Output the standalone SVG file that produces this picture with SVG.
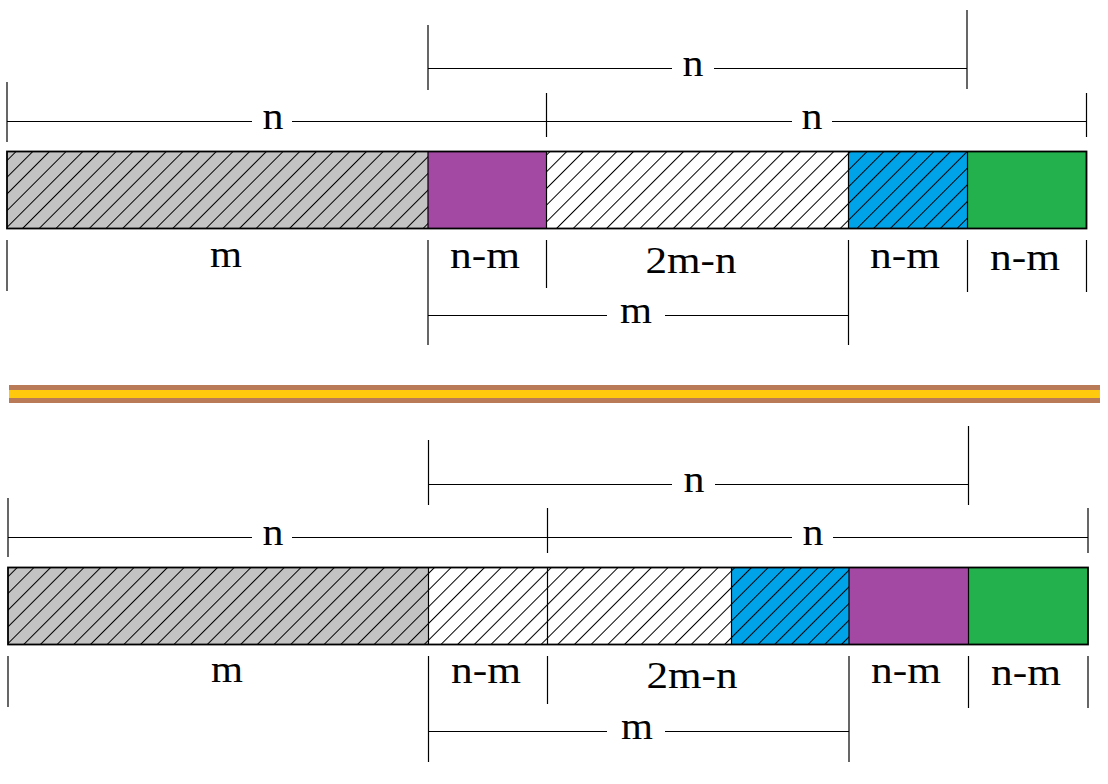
<svg xmlns="http://www.w3.org/2000/svg" width="1108" height="784" viewBox="0 0 1108 784">
<style>
.t{font-family:"Liberation Serif","Times New Roman",serif;font-size:38px;fill:#000;text-anchor:middle}
.dim line{stroke:#000;stroke-width:1.2}
.sep{stroke:#000;stroke-width:1.2}
.frame{fill:none;stroke:#000;stroke-width:1.8}
</style>
<defs>
<pattern id="hatch" patternUnits="userSpaceOnUse" width="11.8" height="20" patternTransform="rotate(45)">
<line x1="0.5" y1="0" x2="0.5" y2="20" stroke="#000" stroke-width="1"/>
</pattern>
</defs>
<rect width="1108" height="784" fill="#fff"/>

<!-- TOP DIAGRAM -->
<g id="top-bar">
<g id="top-m"><rect x="7" y="151.5" width="421" height="77" fill="#C3C3C3"/><rect x="7" y="151.5" width="421" height="77" fill="url(#hatch)"/></g>
<g id="top-purple"><rect x="428" y="151.5" width="118.5" height="77" fill="#A349A4"/></g>
<g id="top-2mn"><rect x="546.5" y="151.5" width="302" height="77" fill="#fff"/><rect x="546.5" y="151.5" width="302" height="77" fill="url(#hatch)"/></g>
<g id="top-blue"><rect x="848.5" y="151.5" width="119" height="77" fill="#00A2E8"/><rect x="848.5" y="151.5" width="119" height="77" fill="url(#hatch)"/></g>
<g id="top-green"><rect x="967.5" y="151.5" width="119" height="77" fill="#22B14C"/></g>
<line class="sep" x1="428" y1="151.5" x2="428" y2="228.5"/>
<line class="sep" x1="546.5" y1="151.5" x2="546.5" y2="228.5"/>
<line class="sep" x1="848.5" y1="151.5" x2="848.5" y2="228.5"/>
<line class="sep" x1="967.5" y1="151.5" x2="967.5" y2="228.5"/>
<rect class="frame" x="7" y="151.5" width="1079.5" height="77"/>
</g>

<g id="top-labels">
<text id="tl-n-upper" class="t" x="693" y="76" textLength="21" lengthAdjust="spacingAndGlyphs">n</text>
<text id="tl-n-left" class="t" x="273" y="128.5" textLength="21" lengthAdjust="spacingAndGlyphs">n</text>
<text id="tl-n-right" class="t" x="812" y="128.5" textLength="21" lengthAdjust="spacingAndGlyphs">n</text>
<text id="tl-m" class="t" x="226" y="267" textLength="32" lengthAdjust="spacingAndGlyphs">m</text>
<text id="tl-nm1" class="t" x="485" y="268" textLength="70" lengthAdjust="spacingAndGlyphs">n-m</text>
<text id="tl-2mn" class="t" x="691" y="273" textLength="91" lengthAdjust="spacingAndGlyphs">2m-n</text>
<text id="tl-nm2" class="t" x="905" y="268" textLength="70" lengthAdjust="spacingAndGlyphs">n-m</text>
<text id="tl-nm3" class="t" x="1025" y="270" textLength="70" lengthAdjust="spacingAndGlyphs">n-m</text>
<text id="tl-m-lower" class="t" x="636" y="323" textLength="32" lengthAdjust="spacingAndGlyphs">m</text>
</g>

<g id="connectors" class="dim">
<!-- top: upper n -->
<line x1="428" y1="25" x2="428" y2="90"/>
<line x1="967" y1="10" x2="967" y2="89"/>
<line x1="428" y1="68.5" x2="672" y2="68.5"/>
<line x1="714" y1="68.5" x2="967" y2="68.5"/>
<!-- top: left/right n -->
<line x1="7" y1="82" x2="7" y2="142"/>
<line x1="546.5" y1="93" x2="546.5" y2="137"/>
<line x1="1086.5" y1="93" x2="1086.5" y2="137"/>
<line x1="7" y1="121.5" x2="252" y2="121.5"/>
<line x1="292" y1="121.5" x2="546.5" y2="121.5"/>
<line x1="546.5" y1="121.5" x2="792" y2="121.5"/>
<line x1="832" y1="121.5" x2="1086.5" y2="121.5"/>
<!-- top: below bar -->
<line x1="7" y1="240" x2="7" y2="291"/>
<line x1="428" y1="240" x2="428" y2="345"/>
<line x1="546.5" y1="240" x2="546.5" y2="288"/>
<line x1="848.5" y1="240" x2="848.5" y2="345"/>
<line x1="967.5" y1="240" x2="967.5" y2="292"/>
<line x1="1086.5" y1="240" x2="1086.5" y2="292"/>
<line x1="428" y1="315.5" x2="607" y2="315.5"/>
<line x1="665" y1="315.5" x2="848.5" y2="315.5"/>

<!-- bottom: upper n -->
<line x1="428.5" y1="440" x2="428.5" y2="505"/>
<line x1="968.5" y1="426" x2="968.5" y2="505"/>
<line x1="428.5" y1="484.5" x2="672" y2="484.5"/>
<line x1="715" y1="484.5" x2="968.5" y2="484.5"/>
<!-- bottom: left/right n -->
<line x1="8" y1="498" x2="8" y2="557"/>
<line x1="547.5" y1="508" x2="547.5" y2="553"/>
<line x1="1088" y1="508" x2="1088" y2="553"/>
<line x1="8" y1="537.5" x2="252" y2="537.5"/>
<line x1="292" y1="537.5" x2="547.5" y2="537.5"/>
<line x1="547.5" y1="537.5" x2="792" y2="537.5"/>
<line x1="833" y1="537.5" x2="1088" y2="537.5"/>
<!-- bottom: below bar -->
<line x1="8" y1="656" x2="8" y2="707"/>
<line x1="428.5" y1="656" x2="428.5" y2="762"/>
<line x1="547.5" y1="656" x2="547.5" y2="704"/>
<line x1="849" y1="656" x2="849" y2="762"/>
<line x1="968.5" y1="656" x2="968.5" y2="708"/>
<line x1="1088" y1="656" x2="1088" y2="708"/>
<line x1="428.5" y1="731.5" x2="607" y2="731.5"/>
<line x1="665" y1="731.5" x2="849" y2="731.5"/>
</g>

<!-- DIVIDER -->
<g id="divider">
<rect x="9" y="385" width="1091" height="18" fill="#B97A57"/>
<rect x="9" y="390" width="1091" height="8" fill="#FFC90E"/>
</g>

<!-- BOTTOM DIAGRAM -->
<g id="bottom-bar">
<g id="bot-m"><rect x="8" y="567.5" width="420.5" height="77" fill="#C3C3C3"/><rect x="8" y="567.5" width="420.5" height="77" fill="url(#hatch)"/></g>
<g id="bot-nm"><rect x="428.5" y="567.5" width="119" height="77" fill="#fff"/><rect x="428.5" y="567.5" width="119" height="77" fill="url(#hatch)"/></g>
<g id="bot-2mn"><rect x="547.5" y="567.5" width="184" height="77" fill="#fff"/><rect x="547.5" y="567.5" width="184" height="77" fill="url(#hatch)"/></g>
<g id="bot-blue"><rect x="731.5" y="567.5" width="117.5" height="77" fill="#00A2E8"/><rect x="731.5" y="567.5" width="117.5" height="77" fill="url(#hatch)"/></g>
<g id="bot-purple"><rect x="849" y="567.5" width="119.5" height="77" fill="#A349A4"/></g>
<g id="bot-green"><rect x="968.5" y="567.5" width="119.5" height="77" fill="#22B14C"/></g>
<line class="sep" x1="428.5" y1="567.5" x2="428.5" y2="644.5"/>
<line class="sep" x1="547.5" y1="567.5" x2="547.5" y2="644.5"/>
<line class="sep" x1="731.5" y1="567.5" x2="731.5" y2="644.5"/>
<line class="sep" x1="849" y1="567.5" x2="849" y2="644.5"/>
<line class="sep" x1="968.5" y1="567.5" x2="968.5" y2="644.5"/>
<rect class="frame" x="8" y="567.5" width="1080" height="77"/>
</g>

<g id="bottom-labels">
<text id="bl-n-upper" class="t" x="694" y="492" textLength="21" lengthAdjust="spacingAndGlyphs">n</text>
<text id="bl-n-left" class="t" x="273" y="545" textLength="21" lengthAdjust="spacingAndGlyphs">n</text>
<text id="bl-n-right" class="t" x="813" y="545" textLength="21" lengthAdjust="spacingAndGlyphs">n</text>
<text id="bl-m" class="t" x="227" y="682" textLength="32" lengthAdjust="spacingAndGlyphs">m</text>
<text id="bl-nm1" class="t" x="486" y="683" textLength="70" lengthAdjust="spacingAndGlyphs">n-m</text>
<text id="bl-2mn" class="t" x="692" y="688" textLength="91" lengthAdjust="spacingAndGlyphs">2m-n</text>
<text id="bl-nm2" class="t" x="906" y="683" textLength="70" lengthAdjust="spacingAndGlyphs">n-m</text>
<text id="bl-nm3" class="t" x="1026" y="685" textLength="70" lengthAdjust="spacingAndGlyphs">n-m</text>
<text id="bl-m-lower" class="t" x="637" y="739" textLength="32" lengthAdjust="spacingAndGlyphs">m</text>
</g>
</svg>
